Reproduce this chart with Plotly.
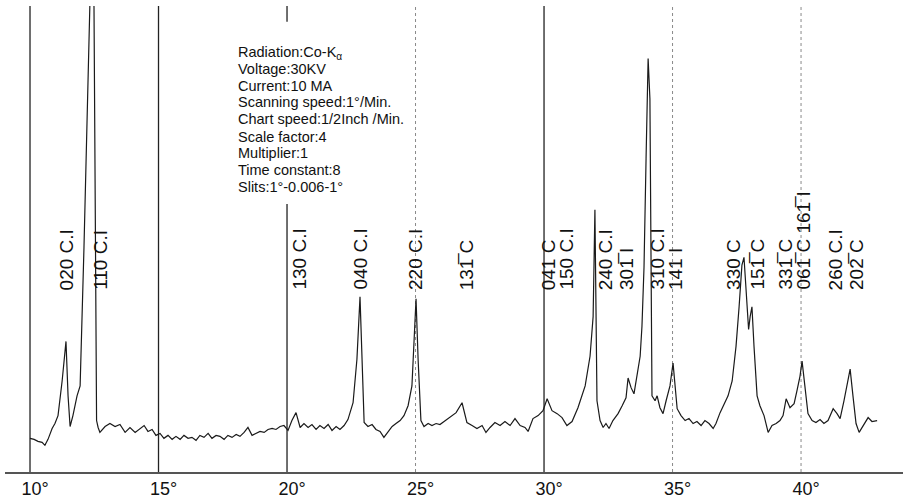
import plotly.graph_objects as go

# ---- data (2-theta in degrees, intensity in arbitrary units) ----
two_theta = [
    10.00, 10.16, 10.31, 10.47, 10.58, 10.70, 10.86, 10.97, 11.09, 11.25, 11.40, 11.48, 11.56, 11.67,
    11.83, 11.95, 12.10, 12.26, 12.33, 12.39, 12.49, 12.55, 12.59, 12.65, 12.72, 12.92, 13.11, 13.31,
    13.50, 13.70, 13.89, 14.09, 14.28, 14.44, 14.59, 14.75, 14.90, 15.06, 15.21, 15.37, 15.53, 15.68,
    15.84, 15.99, 16.15, 16.30, 16.46, 16.61, 16.77, 16.93, 17.08, 17.24, 17.39, 17.55, 17.70, 17.86,
    18.02, 18.17, 18.33, 18.48, 18.64, 18.79, 18.95, 19.11, 19.26, 19.42, 19.57, 19.73, 19.88, 20.04,
    20.19, 20.35, 20.51, 20.66, 20.82, 20.97, 21.13, 21.28, 21.44, 21.60, 21.75, 21.91, 22.06, 22.22,
    22.37, 22.57, 22.72, 22.84, 22.92, 23.00, 23.15, 23.31, 23.46, 23.62, 23.77, 23.93, 24.09, 24.24,
    24.40, 24.55, 24.71, 24.86, 24.94, 25.02, 25.10, 25.21, 25.33, 25.49, 25.64, 25.80, 25.95, 26.11,
    26.26, 26.42, 26.58, 26.81, 27.00, 27.20, 27.39, 27.59, 27.74, 27.90, 28.09, 28.29, 28.48, 28.68,
    28.87, 29.07, 29.26, 29.38, 29.57, 29.77, 29.96, 30.12, 30.31, 30.51, 30.70, 30.89, 31.09, 31.32,
    31.60, 31.79, 31.91, 31.98, 32.04, 32.06, 32.18, 32.30, 32.41, 32.53, 32.68, 32.88, 33.04, 33.19,
    33.27, 33.39, 33.50, 33.62, 33.74, 33.81, 33.89, 33.97, 34.05, 34.12, 34.16, 34.20, 34.32, 34.40,
    34.51, 34.63, 34.75, 34.90, 35.02, 35.10, 35.18, 35.33, 35.49, 35.64, 35.80, 35.95, 36.11, 36.26,
    36.42, 36.58, 36.69, 36.85, 37.00, 37.16, 37.32, 37.47, 37.59, 37.70, 37.78, 37.86, 37.96, 38.02,
    38.09, 38.17, 38.29, 38.40, 38.56, 38.72, 38.87, 39.03, 39.18, 39.30, 39.42, 39.57, 39.73, 39.84,
    39.96, 40.04, 40.16, 40.27, 40.43, 40.58, 40.74, 40.89, 41.05, 41.25, 41.40, 41.52, 41.67, 41.83,
    41.91, 42.02, 42.14, 42.26, 42.37, 42.49, 42.61, 42.76, 42.96,
]
intensity = [
    34, 33, 31, 30, 27, 33, 44, 49, 57, 92, 132, 77, 46, 57,
    77, 87, 227, 392, 470, 537, 470, 177, 52, 45, 40, 46, 49, 46,
    48, 40, 45, 40, 44, 47, 41, 43, 37, 39, 34, 37, 33, 36,
    33, 37, 34, 35, 32, 37, 35, 39, 34, 37, 36, 33, 37, 35,
    38, 36, 40, 45, 37, 39, 41, 40, 43, 44, 43, 46, 47, 42,
    52, 60, 45, 49, 45, 48, 43, 47, 44, 48, 42, 46, 43, 47,
    53, 70, 114, 177, 114, 50, 46, 48, 43, 41, 35, 41, 46, 49,
    52, 57, 67, 87, 130, 175, 114, 52, 46, 49, 47, 49, 48, 51,
    54, 57, 60, 70, 50, 47, 44, 47, 40, 45, 50, 47, 51, 47,
    54, 47, 45, 41, 54, 57, 62, 74, 62, 59, 55, 47, 51, 65,
    87, 117, 157, 265, 147, 72, 52, 45, 49, 44, 52, 59, 67, 75,
    95, 85, 79, 97, 117, 147, 207, 317, 418, 377, 227, 77, 72, 77,
    65, 59, 72, 87, 110, 82, 64, 57, 52, 54, 49, 51, 47, 52,
    49, 44, 49, 60, 69, 77, 92, 127, 167, 209, 217, 187, 144, 157,
    167, 127, 77, 67, 57, 40, 47, 49, 52, 57, 74, 65, 69, 82,
    97, 112, 82, 59, 52, 50, 53, 49, 52, 64, 59, 54, 72, 92,
    104, 77, 49, 40, 45, 49, 55, 51, 52,
]

# reflection labels and their 2-theta positions
peak_labels = ["020 C.I", "110 C.I", "130 C.I", "040 C.I", "220 C.I", "131\u0305 C",
               "041 C", "150 C.I", "240 C.I", "301\u0305 I", "310 C.I", "141 I",
               "330 C", "151\u0305 C", "331\u0305 C", "061\u0305 C 161\u0305 I", "260 C.I", "202\u0305 C"]
peak_label_pos = [11.40, 12.76, 20.47, 22.84, 25.00, 27.00,
                  30.19, 30.86, 32.37, 33.23, 34.40, 35.14,
                  37.37, 38.29, 39.38, 40.10, 41.32, 42.16]

tick_vals = [10, 15, 20, 25, 30, 35, 40]
tick_text = ["10°", "15°", "20°", "25°", "30°", "35°", "40°"]
solid_lines = [10, 15, 20, 30]
dotted_lines = [25, 35, 40]

conditions = ["Radiation:Co-K<sub>α</sub>", "Voltage:30KV", "Current:10 MA",
              "Scanning speed:1°/Min.", "Chart speed:1/2Inch /Min.", "Scale factor:4",
              "Multiplier:1", "Time constant:8", "Slits:1°-0.006-1°"]

# ---- figure ----
W, H = 903, 499
ML, MR, MT, MB = 5, 0, 6, 22
PH = H - MT - MB

def py(ypix):
    return (H - MB - ypix) / PH

fig = go.Figure()
fig.add_trace(go.Scatter(x=two_theta, y=intensity, mode="lines",
                         line=dict(color="#1a1a1a", width=1.2), hoverinfo="skip"))

shapes = []
for v in solid_lines:
    shapes.append(dict(type="line", xref="x", yref="paper", x0=v, x1=v, y0=0, y1=1,
                       line=dict(color="#222222", width=1.3), layer="below"))
for v in dotted_lines:
    shapes.append(dict(type="line", xref="x", yref="paper", x0=v, x1=v, y0=0, y1=1,
                       line=dict(color="#8a8a8a", width=1, dash="dot"), layer="below"))
# white paper label covering the lines behind the conditions text
shapes.append(dict(type="rect", xref="paper", yref="paper",
                   x0=(230 - ML) / (W - ML), x1=(411 - ML) / (W - ML),
                   y0=py(206), y1=py(22), fillcolor="white", line=dict(width=0), layer="below"))

annotations = []
for lab, pos in zip(peak_labels, peak_label_pos):
    annotations.append(dict(x=pos, y=py(295), xref="x", yref="paper", text=lab,
                            textangle=-90, showarrow=False, xanchor="center", yanchor="bottom",
                            font=dict(family="Liberation Sans, Arial, sans-serif", size=19, color="#111")))

cond_y = [53, 70, 87, 103, 120, 138, 155, 172, 189]
for txt, yy in zip(conditions, cond_y):
    annotations.append(dict(x=(237 - ML) / (W - ML), y=py(yy), xref="paper", yref="paper",
                            text=txt, showarrow=False, xanchor="left", yanchor="middle", borderpad=0,
                            font=dict(family="Liberation Sans, Arial, sans-serif", size=14.5, color="#111")))

fig.update_layout(
    width=W, height=H,
    margin=dict(l=ML, r=MR, t=MT, b=MB),
    paper_bgcolor="white", plot_bgcolor="white",
    showlegend=False,
    shapes=shapes, annotations=annotations,
    xaxis=dict(range=[9.027, 43.967], showgrid=False, zeroline=False,
               showline=True, linecolor="#555555", linewidth=1.5,
               tickmode="array", tickvals=tick_vals, ticktext=tick_text, ticks="",
               ticklabelshift=5,
               tickfont=dict(family="Liberation Sans, Arial, sans-serif", size=18, color="#111")),
    yaxis=dict(range=[0, PH], visible=False, fixedrange=True),
)

fig.write_html("out.html", config={"displayModeBar": False},
               post_script="document.body.style.margin='0';document.body.style.overflow='hidden';")
